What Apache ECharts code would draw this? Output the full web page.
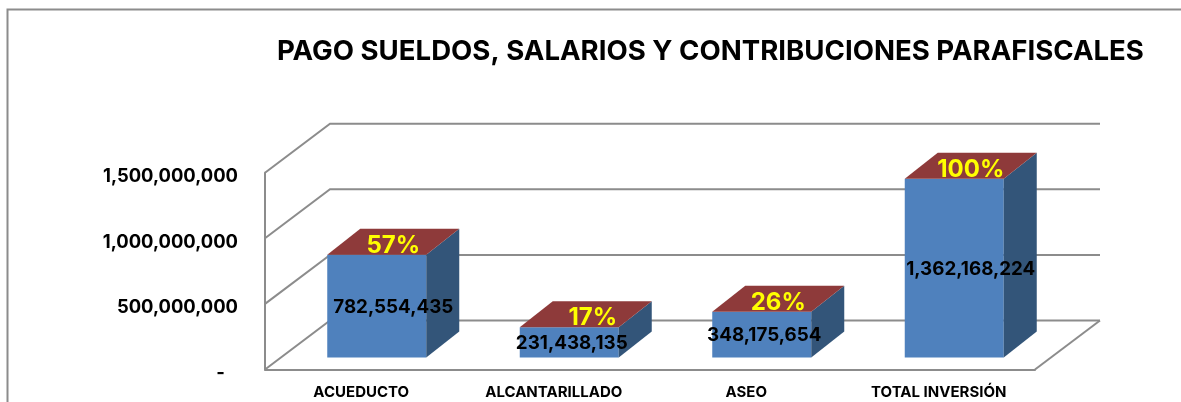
<!DOCTYPE html>
<html>
<head>
<meta charset="utf-8">
<style>html,body{margin:0;padding:0;background:#fff}#chart{width:1181px;height:402px}</style>
<script src="https://cdn.jsdelivr.net/npm/echarts@6/dist/echarts.min.js"></script>
</head>
<body>
<div id="chart"></div>
<script>
var categories = ['ACUEDUCTO', 'ALCANTARILLADO', 'ASEO', 'TOTAL INVERSIÓN'];
var inversion = [782554435, 231438135, 348175654, 1362168224];
var porcentaje = ['57%', '17%', '26%', '100%'];
var yTicks = [0, 500000000, 1000000000, 1500000000];

// desplazamiento horizontal de los rotulos, a mano como en el original
var shiftValor = [0, -14, -14, 0];
var shiftPct = [0, 7, 0, 0];

var fuente = 'Inter';
var gris = '#8c8c8c';
// profundidad del piso y de la barra, en pixeles
var pisoX = 65, pisoY = 49;
var barFrenteX = 15.5, barFrenteY = 12;
var barFondoX = 33, barFondoY = 26;
var barAncho = 99;

var myChart = echarts.init(document.getElementById('chart'));

function fmt(v) {
    return String(v).replace(/\B(?=(\d{3})+$)/g, ',');
}

// paredes del fondo: una diagonal y una horizontal por cada tick
function renderPared(params, api) {
    var c = params.coordSys;
    var y = api.coord([0, api.value(0)])[1];
    var hijos = [{
        type: 'polyline',
        shape: { points: [[c.x, y], [c.x + pisoX, y - pisoY], [c.x + c.width + pisoX, y - pisoY]] },
        style: { stroke: gris, lineWidth: 2, fill: null }
    }];
    if (api.value(0) === 0) {
        hijos.push({
            type: 'line',
            shape: { x1: c.x + c.width, y1: y, x2: c.x + c.width + pisoX, y2: y - pisoY },
            style: { stroke: gris, lineWidth: 2 }
        });
    }
    return { type: 'group', children: hijos };
}

function renderBarra(params, api) {
    var i = api.value(0);
    var p0 = api.coord([i, 0]);
    var p1 = api.coord([i, api.value(1)]);
    var l = p0[0] + barFrenteX - barAncho / 2, r = l + barAncho;
    var b = p0[1] - barFrenteY, t = p1[1] - barFrenteY;
    return {
        type: 'group',
        children: [
            { type: 'polygon', shape: { points: [[l, b], [r, b], [r, t], [l, t]] }, style: { fill: '#4f81bd' } },
            { type: 'polygon', shape: { points: [[r, b], [r + barFondoX, b - barFondoY], [r + barFondoX, t - barFondoY], [r, t]] }, style: { fill: '#335579' } },
            { type: 'polygon', shape: { points: [[l, t], [r, t], [r + barFondoX, t - barFondoY], [l + barFondoX, t - barFondoY]] }, style: { fill: '#8e3a3a' } },
            {
                type: 'text',
                style: {
                    text: fmt(api.value(1)), x: (l + r + barFondoX) / 2 + shiftValor[i], y: (b + t) / 2 + 1,
                    align: 'center', verticalAlign: 'middle', fill: '#000',
                    font: 'bold 18.8px ' + fuente
                }
            },
            {
                type: 'text',
                style: {
                    text: porcentaje[i], x: (l + r + barFondoX) / 2 + shiftPct[i], y: t - barFondoY / 2 + 4,
                    align: 'center', verticalAlign: 'middle', fill: '#ffff00',
                    font: 'bold 24px ' + fuente
                }
            }
        ]
    };
}

var option = {
    animation: false,
    backgroundColor: '#fff',
    title: {
        text: 'PAGO SUELDOS, SALARIOS Y CONTRIBUCIONES PARAFISCALES',
        left: 272, top: 33,
        textStyle: { color: '#000', fontSize: 27.6, fontWeight: 'bold', fontFamily: fuente }
    },
    graphic: [{
        type: 'polyline',
        shape: { points: [[7.5, 402], [7.5, 9.5], [1181, 9.5]] },
        style: { stroke: gris, lineWidth: 2, fill: null }
    }],
    grid: { left: 265, right: 146, top: 172.7, bottom: 32.5 },
    xAxis: {
        type: 'category',
        data: categories,
        axisTick: { show: false },
        axisLine: { lineStyle: { color: gris, width: 2 } },
        axisLabel: { color: '#000', fontSize: 15, fontWeight: 'bold', fontFamily: fuente, margin: 15 }
    },
    yAxis: {
        type: 'value',
        min: 0,
        max: 1500000000,
        interval: 500000000,
        splitLine: { show: false },
        axisTick: { show: false },
        axisLine: { show: true, lineStyle: { color: gris, width: 2 } },
        axisLabel: {
            color: '#000', fontSize: 18.4, fontWeight: 'bold', fontFamily: fuente, margin: 27,
            verticalAlign: 'top', lineHeight: 8,
            formatter: function (v) { return v === 0 ? '-\u00a0\u00a0\u00a0' : fmt(v); }
        }
    },
    series: [
        {
            type: 'custom',
            z: 1,
            clip: false,
            renderItem: renderPared,
            encode: { y: 0 },
            data: yTicks.map(function (v) { return [v]; })
        },
        {
            type: 'custom',
            z: 3,
            clip: false,
            renderItem: renderBarra,
            encode: { x: 0, y: 1 },
            data: inversion.map(function (v, i) { return [i, v]; })
        }
    ]
};

myChart.setOption(option);
</script>
</body>
</html>
